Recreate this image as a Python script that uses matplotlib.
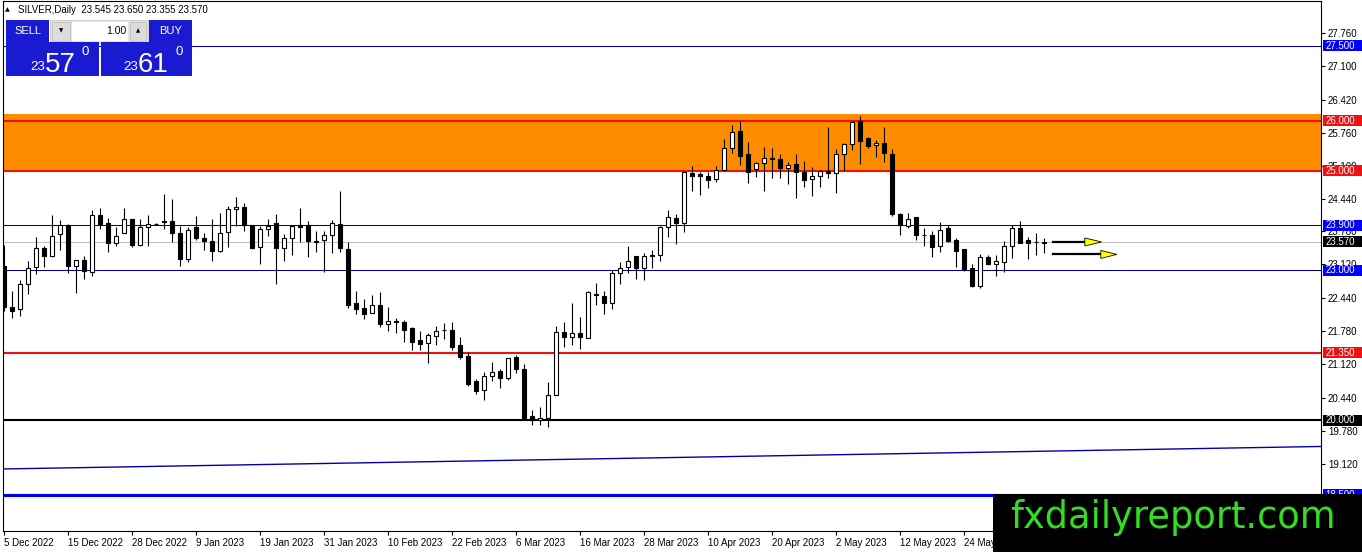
import matplotlib
matplotlib.use("Agg")
import matplotlib.pyplot as plt
from matplotlib.patches import Rectangle, Polygon
import numpy as np

plt.rcParams['font.family'] = ['Liberation Sans', 'DejaVu Sans']

# denní svíčky SILVER (open, high, low, close)
opens = [23.09, 22.26, 22.23, 22.73, 23.06, 23.44, 23.29, 23.73, 23.91, 23.09,
         23.21, 22.97, 24.11, 23.95, 23.54, 23.74, 24.04, 23.51, 23.87, 23.93,
         23.99, 23.99, 23.74, 23.23, 23.86, 23.64, 23.58, 23.39, 23.76, 24.24,
         24.28, 23.91, 23.46, 23.83, 23.94, 23.44, 23.64, 23.91, 23.91, 23.58,
         23.61, 23.71, 23.93, 23.43, 22.34, 22.25, 22.14, 22.31, 21.93, 21.98,
         21.96, 21.84, 21.60, 21.55, 21.69, 21.80, 21.80, 21.50, 21.29, 20.78,
         20.60, 20.88, 20.98, 20.85, 21.27, 21.02, 20.08, 20.00, 20.05, 20.51,
         21.77, 21.66, 21.74, 21.65, 22.53, 22.49, 22.35, 22.94, 23.06, 23.29,
         23.04, 23.28, 23.31, 23.86, 24.06, 23.94, 24.96, 24.94, 24.90, 24.83,
         25.01, 25.45, 25.80, 25.33, 25.03, 25.15, 25.25, 25.23, 25.06, 25.13,
         24.97, 24.83, 24.89, 24.99, 24.95, 25.33, 25.53, 26.00, 25.65, 25.51,
         25.56, 25.33, 24.14, 23.89, 24.08, 23.71, 23.71, 23.49, 23.85, 23.61,
         23.42, 23.04, 22.69, 23.26, 23.13, 23.16, 23.49, 23.84, 23.61, 23.56,
         23.545]
highs = [23.51, 22.59, 22.81, 23.19, 23.66, 23.49, 24.11, 24.01, 23.93, 23.21,
         23.29, 24.21, 24.25, 24.05, 23.86, 24.25, 24.04, 24.04, 24.12, 23.95,
         24.53, 24.43, 23.89, 23.87, 24.09, 23.74, 24.03, 24.16, 24.29, 24.48,
         24.35, 23.91, 23.89, 24.04, 24.14, 23.73, 23.89, 24.26, 23.99, 23.78,
         23.79, 24.01, 24.59, 23.56, 22.59, 22.43, 22.51, 22.56, 22.27, 22.05,
         22.00, 21.87, 21.78, 21.74, 21.89, 21.94, 21.96, 21.66, 21.36, 20.82,
         20.97, 21.16, 21.02, 21.25, 21.30, 21.12, 20.20, 20.27, 20.76, 21.89,
         21.97, 22.34, 22.06, 22.59, 22.75, 22.59, 23.01, 23.17, 23.49, 23.29,
         23.34, 23.40, 23.89, 24.21, 24.14, 25.00, 25.10, 24.98, 24.98, 25.09,
         25.63, 25.91, 26.00, 25.57, 25.18, 25.47, 25.46, 25.33, 25.17, 25.33,
         25.19, 25.08, 25.01, 25.88, 25.43, 25.55, 26.00, 26.10, 25.68, 25.62,
         25.88, 25.43, 24.15, 24.15, 24.08, 23.84, 23.78, 23.96, 23.91, 23.64,
         23.42, 23.12, 23.32, 23.31, 23.31, 23.59, 23.91, 24.00, 23.66, 23.74,
         23.65]
lows = [22.19, 22.04, 22.08, 22.53, 22.93, 23.07, 23.27, 23.41, 22.95, 22.55,
        22.83, 22.89, 23.83, 23.36, 23.49, 23.74, 23.46, 23.49, 23.49, 23.91,
        23.83, 23.57, 23.09, 23.17, 23.61, 23.41, 23.19, 23.36, 23.46, 23.89,
        23.79, 23.42, 23.13, 23.69, 22.73, 23.19, 23.31, 23.57, 23.26, 23.36,
        22.96, 23.35, 23.37, 22.25, 22.12, 22.02, 22.14, 21.87, 21.79, 21.75,
        21.57, 21.40, 21.40, 21.15, 21.50, 21.62, 21.40, 21.22, 20.68, 20.53,
        20.40, 20.78, 20.65, 20.80, 20.95, 20.00, 19.90, 19.90, 19.87, 20.51,
        21.47, 21.50, 21.42, 21.64, 22.31, 22.12, 22.22, 22.72, 22.94, 22.82,
        22.81, 23.04, 23.19, 23.66, 23.52, 23.77, 24.60, 24.51, 24.65, 24.78,
        24.99, 25.35, 25.11, 24.76, 24.88, 24.60, 24.86, 24.86, 24.73, 24.46,
        24.68, 24.49, 24.68, 24.85, 24.55, 24.99, 25.41, 25.13, 25.45, 25.28,
        25.18, 24.09, 23.71, 23.84, 23.60, 23.49, 23.27, 23.36, 23.56, 23.07,
        22.99, 22.66, 22.64, 23.10, 22.89, 22.96, 23.24, 23.54, 23.22, 23.31,
        23.355]
closes = [22.26, 22.18, 22.73, 23.05, 23.44, 23.29, 23.69, 23.91, 23.09, 23.21,
          22.99, 24.11, 23.93, 23.54, 23.69, 24.03, 23.51, 23.86, 23.92, 23.93,
          23.96, 23.74, 23.23, 23.81, 23.64, 23.58, 23.39, 23.74, 24.24, 24.28,
          23.91, 23.44, 23.83, 23.89, 23.44, 23.64, 23.88, 23.87, 23.59, 23.56,
          23.71, 23.94, 23.44, 22.31, 22.23, 22.13, 22.31, 21.92, 21.98, 21.96,
          21.81, 21.57, 21.52, 21.70, 21.79, 21.80, 21.47, 21.27, 20.72, 20.59,
          20.88, 20.96, 20.85, 21.24, 21.02, 20.05, 20.01, 20.04, 20.50, 21.76,
          21.66, 21.74, 21.66, 22.56, 22.50, 22.35, 22.95, 23.05, 23.19, 23.04,
          23.29, 23.31, 23.86, 24.07, 23.94, 24.97, 24.90, 24.90, 24.81, 25.01,
          25.45, 25.77, 25.30, 24.98, 25.15, 25.25, 25.24, 25.05, 25.11, 24.97,
          24.81, 24.89, 24.99, 24.95, 25.33, 25.53, 25.98, 25.60, 25.49, 25.56,
          25.35, 24.13, 23.91, 24.04, 23.71, 23.71, 23.46, 23.80, 23.58, 23.39,
          23.02, 22.69, 23.27, 23.12, 23.18, 23.49, 23.84, 23.55, 23.54, 23.56,
          23.57]

date_labels = ["5 Dec 2022", "15 Dec 2022", "28 Dec 2022", "9 Jan 2023", "19 Jan 2023",
               "31 Jan 2023", "10 Feb 2023", "22 Feb 2023", "6 Mar 2023", "16 Mar 2023",
               "28 Mar 2023", "10 Apr 2023", "20 Apr 2023", "2 May 2023", "12 May 2023",
               "24 May 2023"]
price_ticks = [27.76, 27.10, 26.42, 25.76, 25.10, 24.44, 23.78, 23.12, 22.44,
               21.78, 21.12, 20.44, 19.78, 19.12, 18.46]

# horizontální úrovně: cena, barva čáry, tloušťka, barva štítku
levels = [27.5, 26.0, 25.0, 23.9, 23.57, 23.0, 21.35, 20.0, 18.5]
level_colors = ['#000099', '#ee1111', '#ee1111', '#000099', '#c0c0c0',
                '#000099', '#ee1111', 'black', '#0000ee']
level_widths = [1.0, 2.0, 2.0, 1.0, 1.0, 1.0, 2.0, 2.0, 3.0]
label_colors = ['#0000ff', '#ee1111', '#ee1111', '#0000ff', 'black',
                '#0000ff', '#ee1111', 'black', '#0000ff']

zone_low, zone_high = 25.0, 26.14

# trendová čára (dva body, prodloužená k okrajům)
trend_x = [0, 164.5]
trend_y = [19.02, 19.47]

# šipky vpravo: začátek, základna hrotu, špička, cena
arrow_start = [131.1, 131.1]
arrow_base = [135.1, 137.1]
arrow_tip = [137.2, 139.1]
arrow_price = [23.57, 23.32]

W, H = 1362, 552
XMIN, XMAX = -0.125, 164.625
fig = plt.figure(figsize=(W / 100, H / 100), dpi=100)
ax = fig.add_axes([3 / W, 21 / H, 1318 / W, 530 / H])
ax.set_xlim(XMIN, XMAX)
ax.set_ylim(17.776, 28.40)

# zóna a úrovně
ax.axhspan(zone_low, zone_high, color='#ff8c00', lw=0, zorder=0.5)
for v, col, lw in zip(levels, level_colors, level_widths):
    ax.axhline(v, color=col, lw=lw * 0.75, zorder=1)
slope = (trend_y[1] - trend_y[0]) / (trend_x[1] - trend_x[0])
tx = np.array([XMIN, XMAX])
ax.plot(tx, trend_y[0] + slope * (tx - trend_x[0]), color='#0000aa', lw=1.0, zorder=1)

# svíčky
idx = np.arange(len(opens))
o = np.array(opens)
c = np.array(closes)
ax.vlines(idx, lows, highs, color='black', lw=0.8, zorder=2)
up = c >= o
ax.bar(idx, np.abs(c - o), bottom=np.minimum(o, c), width=0.62,
       color=np.where(up, 'white', 'black'), edgecolor='black', linewidth=0.8, zorder=3)

# šipky
for s, b, t, p in zip(arrow_start, arrow_base, arrow_tip, arrow_price):
    ax.plot([s, b], [p, p], color='black', lw=1.6, zorder=4)
    ax.add_patch(Polygon([[b, p + 0.08], [b, p - 0.08], [t, p]], closed=True,
                         fc='#ffff00', ec='black', lw=0.6, zorder=4))

# osy
ax.yaxis.tick_right()
ax.set_yticks(price_ticks)
ax.set_yticklabels([f'{t:.3f}' for t in price_ticks])
ax.tick_params(axis='y', length=3, width=0.8, pad=2, labelsize=7)
ax.set_xticks(np.arange(len(date_labels)) * 8)
ax.set_xticklabels(date_labels, ha='left')
ax.tick_params(axis='x', length=3, width=0.8, pad=2, labelsize=7)
for sp in ax.spines.values():
    sp.set_linewidth(0.8)

# štítky úrovní na pravé ose
tr = ax.get_yaxis_transform()
for v, lc in zip(levels, label_colors):
    ax.add_patch(Rectangle((1.0013, v - 0.11), 0.0296, 0.22, transform=tr,
                           fc=lc, ec='none', clip_on=False, zorder=5))
    ax.text(1.0035, v, f'{v:.3f}', transform=tr, color='white', fontsize=7,
            va='center', ha='left', clip_on=False, zorder=6)

# překryvná vrstva v pixelech (panel obchodování, titulek, vodoznak)
ov = fig.add_axes([0, 0, 1, 1], zorder=10)
ov.set_xlim(0, W)
ov.set_ylim(H, 0)
ov.axis('off')
ov.patch.set_alpha(0)

ov.text(5, 10, '\u25b2', fontsize=4.5, va='center', ha='left', family=['DejaVu Sans'])
ov.text(18, 10, 'SILVER,Daily  23.545 23.650 23.355 23.570', fontsize=7, va='center', ha='left')

blue = '#1a1ad0'
ov.add_patch(Rectangle((6, 20), 43, 22, fc=blue, ec='none'))
ov.text(27.5, 31, 'SELL', color='white', fontsize=8, ha='center', va='center')
ov.add_patch(Rectangle((149, 20), 43, 22, fc=blue, ec='none'))
ov.text(170.5, 31, 'BUY', color='white', fontsize=8, ha='center', va='center')
ov.add_patch(Rectangle((50, 20), 98, 23, fc='#e4e4e4', ec='#c8c8c8', lw=0.6))
ov.add_patch(Rectangle((52, 22), 18, 19, fc='#dcdcdc', ec='#b8b8b8', lw=0.5))
ov.add_patch(Rectangle((72, 22), 56, 19, fc='white', ec='none'))
ov.add_patch(Rectangle((130, 22), 16, 19, fc='#dcdcdc', ec='#b8b8b8', lw=0.5))
ov.text(61, 31, '\u25bc', fontsize=4, ha='center', va='center', family=['DejaVu Sans'])
ov.text(138, 31, '\u25b2', fontsize=4, ha='center', va='center', family=['DejaVu Sans'])
ov.text(126, 31, '1.00', fontsize=7.5, ha='right', va='center')

ov.add_patch(Rectangle((6, 42), 93, 34, fc=blue, ec='none'))
ov.add_patch(Rectangle((101, 42), 91, 34, fc=blue, ec='none'))
for x0, big in [(30, '57'), (123, '61')]:
    ov.text(x0, 70, '23', color='white', fontsize=9.5, ha='left', va='baseline')
    ov.text(x0 + 15, 72, big, color='white', fontsize=20, ha='left', va='baseline')
    ov.text(x0 + 52, 55, '0', color='white', fontsize=9.5, ha='left', va='baseline')

ov.add_patch(Rectangle((993, 494), 369, 58, fc='black', ec='none'))
ov.text(1010, 528, 'fxdailyreport.com', color='#33dd22', fontsize=26.5,
        ha='left', va='baseline', family=['DejaVu Sans'])

fig.savefig('out.png', dpi=100)
